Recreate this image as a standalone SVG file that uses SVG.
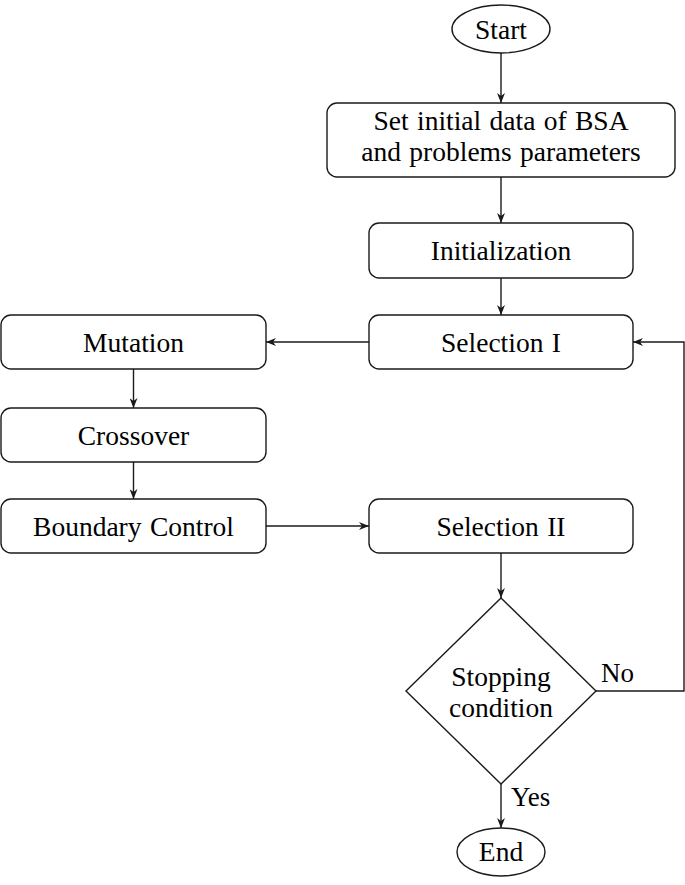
<svg xmlns="http://www.w3.org/2000/svg" width="685" height="885" viewBox="0 0 685 885">
<defs>
<style>
.n{fill:#fff;stroke:#1a1a1a;stroke-width:1.4}
.t{font-family:"Liberation Serif","Times New Roman",serif;font-size:27.5px;word-spacing:1.5px;fill:#000;text-anchor:middle}
.l{font-family:"Liberation Serif","Times New Roman",serif;font-size:27px;fill:#000}
.c{fill:none;stroke:#1a1a1a;stroke-width:1.4;marker-end:url(#ah)}
</style>
<marker id="ah" viewBox="0 0 10 8" refX="10" refY="4" markerWidth="10" markerHeight="8" markerUnits="userSpaceOnUse" orient="auto">
<path d="M0,0 L10,4 L0,8 L3,4 z" fill="#1a1a1a"/>
</marker>
</defs>
<rect width="685" height="885" fill="#fff"/>
<g id="connectors">
<path class="c" d="M501,53 V103"/>
<path class="c" d="M501,177 V223"/>
<path class="c" d="M501,278 V315"/>
<path class="c" d="M369,342 H266"/>
<path class="c" d="M133.5,369 V408"/>
<path class="c" d="M133.5,462 V499"/>
<path class="c" d="M266,526 H369"/>
<path class="c" d="M501,553 V598"/>
<path class="c" d="M596,691 H684 V342 H633"/>
<path class="c" d="M501,784 V828"/>
<text class="l" x="601" y="682">No</text>
<text class="l" x="511" y="806">Yes</text>
</g>
<g id="start">
<ellipse class="n" cx="501" cy="29" rx="49" ry="24"/>
<text class="t" x="501" y="38.5">Start</text>
</g>
<g id="setinit">
<rect class="n" x="327" y="103" width="348" height="74" rx="10"/>
<text class="t" x="501" y="130">Set initial data of BSA</text>
<text class="t" x="501" y="161">and problems parameters</text>
</g>
<g id="init">
<rect class="n" x="369" y="223" width="264" height="55" rx="10"/>
<text class="t" x="501" y="260">Initialization</text>
</g>
<g id="sel1">
<rect class="n" x="369" y="315" width="264" height="54" rx="10"/>
<text class="t" x="501" y="351.5">Selection I</text>
</g>
<g id="mutation">
<rect class="n" x="1" y="315" width="265" height="54" rx="10"/>
<text class="t" x="133.5" y="351.5">Mutation</text>
</g>
<g id="crossover">
<rect class="n" x="1" y="408" width="265" height="54" rx="10"/>
<text class="t" x="133.5" y="444.5">Crossover</text>
</g>
<g id="boundary">
<rect class="n" x="1" y="499" width="265" height="54" rx="10"/>
<text class="t" x="133.5" y="535.5">Boundary Control</text>
</g>
<g id="sel2">
<rect class="n" x="369" y="499" width="264" height="54" rx="10"/>
<text class="t" x="501" y="535.5">Selection II</text>
</g>
<g id="stop">
<polygon class="n" points="501,598 596,691 501,784 406,691"/>
<text class="t" x="501" y="686">Stopping</text>
<text class="t" x="501" y="717">condition</text>
</g>
<g id="end">
<ellipse class="n" cx="501" cy="852" rx="44" ry="24"/>
<text class="t" x="501" y="861">End</text>
</g>
</svg>
